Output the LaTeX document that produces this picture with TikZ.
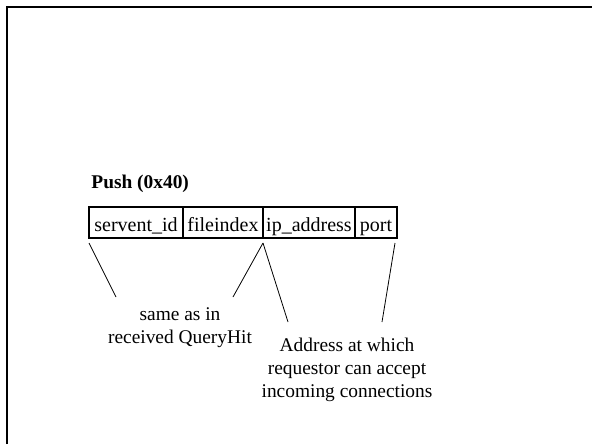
\documentclass[tikz,border=0pt]{standalone}
\usepackage{fontspec}
\setmainfont{Liberation Serif}
\usetikzlibrary{positioning}

\tikzset{
  field/.style={draw, thick, outer sep=0pt, inner sep=0pt, text height=12.3pt, text depth=3.2pt,
    font=\fontsize{10}{12}\selectfont},
  note/.style={align=center, inner sep=0pt, font=\fontsize{9.7}{11.5}\selectfont}
}

\begin{document}
\begin{tikzpicture}[x=0.5pt, y=-0.5pt, font=\fontsize{9.7}{11.5}\selectfont, node distance=0pt]

        \useasboundingbox (0,0) rectangle (592,444);

        % Draw the slide frame
        \draw[line width=1pt] (7,444) -- (7,7) -- (592,7);

        % Draw the message name
        \node[anchor=west, inner sep=0pt] (title) at (91,184) {\textbf{Push (0x40)}};

        % Draw the fields of the message
        \node[field, minimum width=47pt, anchor=south west] (sid) at (89,238) {servent\_id};
        \node[field, minimum width=40pt, right=of sid] (fidx) {fileindex};
        \node[field, minimum width=46pt, right=of fidx] (ip) {ip\_address};
        \node[field, minimum width=21pt, right=of ip] (port) {port};

        % Draw the notes below
        \node[note] (same) at (180,328) {same as in\\received QueryHit};
        \node[note] (addr) at (347,370) {Address at which\\requestor can accept\\incoming connections};

        % Lines connecting fields to notes
        \coordinate (s1) at (116,297);
        \coordinate (s2) at (233,297);
        \coordinate (a1) at (288,322);
        \coordinate (a2) at (382,322);

        \draw ([yshift=-2.5pt]sid.south west) -- (s1);
        \draw ([yshift=-2.5pt]fidx.south east) -- (s2);
        \draw ([yshift=-2.5pt]fidx.south east) -- (a1);
        \draw ([xshift=-1pt, yshift=-2.5pt]port.south east) -- (a2);
    \end{tikzpicture}
\end{document}
